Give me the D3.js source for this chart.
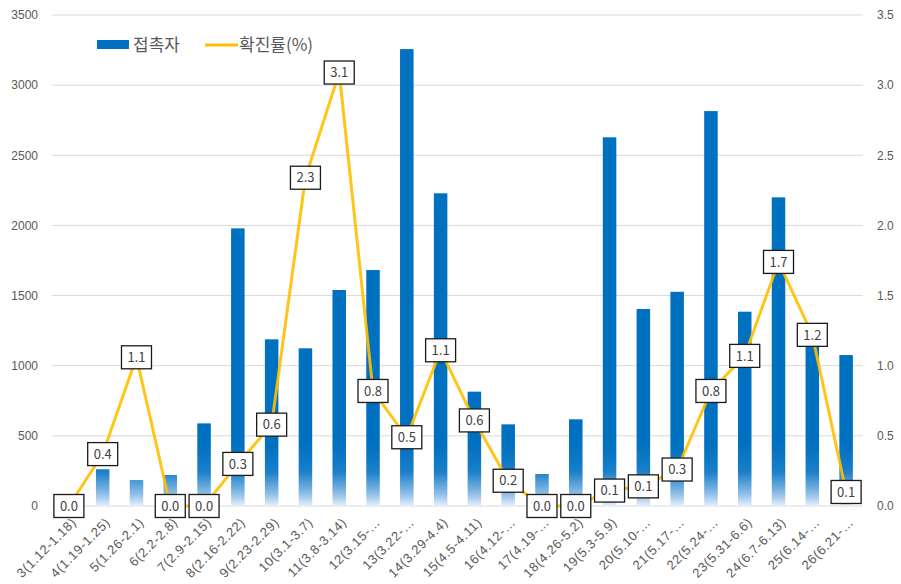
<!DOCTYPE html>
<html><head><meta charset="utf-8">
<script src="https://cdn.jsdelivr.net/npm/d3@7"></script>
<style>
html,body{margin:0;padding:0;background:#fff;}
svg{display:block;font-family:"Noto Sans CJK KR","Noto Sans",sans-serif;}
</style></head>
<body>
<svg id="chart" width="901" height="584"></svg>
<script>
const categories = ["3(1.12-1.18)","4(1.19-1.25)","5(1.26-2.1)","6(2.2-2.8)","7(2.9-2.15)","8(2.16-2.22)","9(2.23-2.29)","10(3.1-3.7)","11(3.8-3.14)","12(3.15-…","13(3.22-…","14(3.29-4.4)","15(4.5-4.11)","16(4.12-…","17(4.19-…","18(4.26-5.2)","19(5.3-5.9)","20(5.10-…","21(5.17-…","22(5.24-…","23(5.31-6.6)","24(6.7-6.13)","25(6.14-…","26(6.21-…"];
const contacts = [0,262,185,221,589,1979,1188,1124,1540,1682,3257,2229,815,582,228,618,2628,1404,1527,2815,1385,2200,1170,1076];
const rates = [0,0.37,1.06,0,0,0.30,0.58,2.34,3.09,0.82,0.49,1.11,0.61,0.18,0,0,0.11,0.14,0.26,0.82,1.07,1.74,1.22,0.10];
const leftTicks = [0,500,1000,1500,2000,2500,3000,3500];
const rightTicks = [0,0.5,1.0,1.5,2.0,2.5,3.0,3.5];
const seriesNames = ["접촉자","확진률(%)"];

const svg = d3.select("#chart");
const L = 52, R = 863, T = 15, B = 506;
const x = d3.scaleBand().domain(categories).range([L, R]).padding(0);
const yL = d3.scaleLinear().domain([0, 3500]).range([B, T]);
const yR = d3.scaleLinear().domain([0, 3.5]).range([B, T]);
const blue = "#0070C0", yellow = "#FFC000", txt = "#595959";

// gradient for bars
const defs = svg.append("defs");
const g = defs.append("linearGradient").attr("id","barGrad")
  .attr("gradientUnits","userSpaceOnUse").attr("x1",0).attr("x2",0)
  .attr("y1", B - 62).attr("y2", B);
g.append("stop").attr("offset","0").attr("stop-color", blue);
g.append("stop").attr("offset","0.45").attr("stop-color", "#1a7fc8");
g.append("stop").attr("offset","0.8").attr("stop-color", "#8dbde6");
g.append("stop").attr("offset","1").attr("stop-color", "#e6f0fa");

// gridlines
svg.append("g").selectAll("line").data(leftTicks).join("line")
  .attr("x1", L).attr("x2", R)
  .attr("y1", d => yL(d)).attr("y2", d => yL(d))
  .attr("stroke", "#d9d9d9").attr("stroke-width", 1);

// left axis
const axL = svg.append("g").attr("transform", `translate(${L},0)`)
  .call(d3.axisLeft(yL).tickValues(leftTicks).tickSize(0).tickPadding(14).tickFormat(d3.format("d")));
axL.select(".domain").remove();
axL.selectAll("text").attr("fill", txt).style("font-size","12px").style("font-family","inherit");

// right axis
const axR = svg.append("g").attr("transform", `translate(${R},0)`)
  .call(d3.axisRight(yR).tickValues(rightTicks).tickSize(0).tickPadding(14).tickFormat(d3.format(".1f")));
axR.select(".domain").remove();
axR.selectAll("text").attr("fill", txt).style("font-size","12px").style("font-family","inherit");

// x axis labels
const axX = svg.append("g").attr("transform", `translate(0,${B})`)
  .call(d3.axisBottom(x).tickSize(0).tickPadding(0));
axX.select(".domain").remove();
axX.selectAll("text")
  .attr("fill", txt).style("font-size","13px").style("font-family","inherit")
  .style("letter-spacing","0.6px")
  .attr("text-anchor","end").attr("dy","0.35em")
  .attr("transform","translate(5,14) rotate(-45)");

// bars
const bw = x.bandwidth() * 0.4;
svg.append("g").selectAll("rect").data(contacts).join("rect")
  .attr("x", (d,i) => x(categories[i]) + x.bandwidth()/2 - bw/2)
  .attr("width", bw)
  .attr("y", d => yL(d))
  .attr("height", d => B - yL(d))
  .attr("fill", "url(#barGrad)");

// line
const line = d3.line()
  .x((d,i) => x(categories[i]) + x.bandwidth()/2)
  .y(d => yR(d));
svg.append("path").datum(rates).attr("d", line)
  .attr("fill","none").attr("stroke", yellow).attr("stroke-width", 3)
  .attr("stroke-linejoin","round").attr("opacity",0.9);

// data labels
const lab = svg.append("g").selectAll("g").data(rates).join("g")
  .attr("transform", (d,i) => `translate(${x(categories[i]) + x.bandwidth()/2},${yR(d)})`);
lab.append("rect").attr("x", -15).attr("y", -11.5).attr("width", 30).attr("height", 23)
  .attr("fill","#fff").attr("stroke","#1a1a1a").attr("stroke-width",1.3);
lab.append("text").text(d => d.toFixed(1))
  .attr("text-anchor","middle").attr("dy","0.36em")
  .attr("fill","#404040").style("font-size","13px");

// legend
const leg = svg.append("g");
leg.append("rect").attr("x", 97).attr("y", 40).attr("width", 32).attr("height", 9).attr("fill", blue);
leg.append("text").attr("x", 133).attr("y", 45).attr("dy","0.36em").text(seriesNames[0])
  .attr("fill", txt).style("font-size","17px");
leg.append("line").attr("x1", 205).attr("x2", 238).attr("y1", 45).attr("y2", 45)
  .attr("stroke", yellow).attr("stroke-width", 3);
leg.append("text").attr("x", 239).attr("y", 45).attr("dy","0.36em").text(seriesNames[1])
  .attr("fill", txt).style("font-size","17px");
</script>
</body></html>
